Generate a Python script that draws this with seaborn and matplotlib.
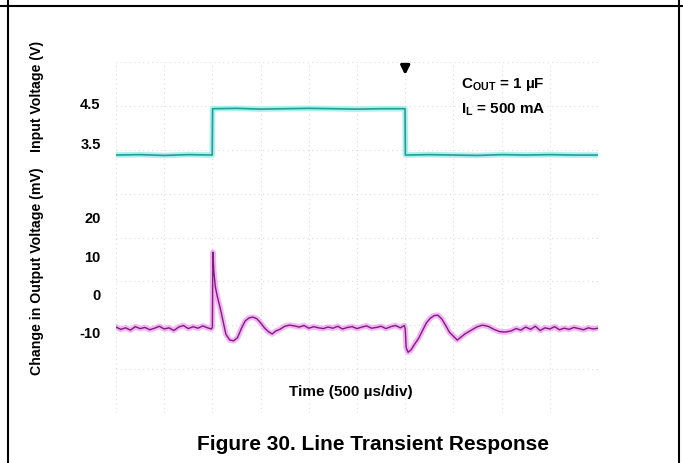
import numpy as np
import pandas as pd
import seaborn as sns
import matplotlib.pyplot as plt
from matplotlib.lines import Line2D

# input voltage trace (V) vs time (us)
t_in = [0, 250, 500, 750, 998, 1002, 1250, 1500, 1750, 2000, 2250, 2500, 2750,
        2998, 3002, 3250, 3500, 3750, 4000, 4250, 4500, 4750, 5000]
v_in = [3.20, 3.21, 3.19, 3.21, 3.20, 4.36, 4.37, 4.35, 4.36, 4.37, 4.36, 4.35, 4.36,
        4.36, 3.20, 3.21, 3.20, 3.19, 3.21, 3.20, 3.21, 3.20, 3.20]

# change in output voltage (mV) vs time (us)
t_out = [0, 50, 100, 150, 200, 250, 300, 350, 400, 450, 500, 550, 600, 650, 700,
         750, 800, 850, 900, 950, 990,
         1000, 1005, 1015, 1030, 1050, 1080, 1110, 1140, 1180, 1220, 1260, 1300,
         1340, 1380, 1420, 1460, 1500, 1540, 1580, 1620, 1660, 1700, 1750, 1800,
         1850, 1900, 1950, 2000, 2050, 2100, 2150, 2200, 2250, 2300, 2350, 2400,
         2450, 2500, 2550, 2600, 2650, 2700, 2750, 2800, 2850, 2900, 2950, 2990,
         3000, 3010, 3030, 3060, 3100, 3140, 3180, 3220, 3260, 3300, 3340, 3380,
         3420, 3460, 3500, 3540, 3580, 3620, 3680, 3740, 3800, 3860, 3920, 3980,
         4040, 4100, 4150, 4200, 4250, 4300, 4350, 4400, 4450, 4500, 4550, 4600,
         4650, 4700, 4750, 4800, 4850, 4900, 4950, 5000]
v_out = [-8.6, -9.2, -8.8, -9.4, -8.5, -9.0, -8.7, -9.3, -8.9, -8.4, -9.1, -8.8,
         -9.5, -8.6, -8.2, -9.0, -8.5, -8.9, -8.3, -8.8, -9.1,
         -8.6, 11.0, 6.0, 2.0, -0.5, -3.5, -7.0, -10.5, -12.0, -12.2, -11.4, -9.0,
         -7.0, -6.2, -6.0, -6.4, -7.5, -8.8, -9.8, -10.4, -9.6, -9.2, -8.4, -8.1,
         -8.3, -8.6, -8.2, -8.9, -8.5, -8.8, -9.0, -8.6, -8.9, -8.4, -9.1, -8.7,
         -8.5, -9.0, -8.6, -8.3, -8.9, -8.7, -8.4, -9.0, -8.5, -8.2, -8.8, -8.2,
         -9.0, -14.0, -15.2, -14.6, -13.0, -11.5, -9.5, -7.5, -6.3, -5.6, -5.5, -6.5,
         -8.2, -10.0, -11.0, -12.0, -11.2, -10.4, -9.5, -8.6, -8.1, -8.4, -9.2, -9.8,
         -9.9, -9.6, -9.0, -9.4, -8.6, -9.2, -8.4, -9.5, -8.8, -9.1, -8.5, -9.3,
         -8.9, -9.2, -8.7, -9.0, -9.3, -8.8, -9.1, -8.9]

in_ticks = [3.5, 4.5]
out_ticks = [-10, 0, 10, 20]

df_in = pd.DataFrame({"t": t_in, "v": v_in})
df_out = pd.DataFrame({"t": t_out, "v": v_out})

sns.set_style("white")
plt.rcParams["font.family"] = ["Liberation Sans", "DejaVu Sans"]
plt.rcParams["text.color"] = "black"
plt.rcParams["ytick.color"] = "black"
plt.rcParams["mathtext.fontset"] = "custom"
plt.rcParams["mathtext.bf"] = "Liberation Sans:bold"
plt.rcParams["mathtext.rm"] = "Liberation Sans:bold"

fig = plt.figure(figsize=(6.83, 4.63), dpi=100)
pos = [116 / 683, 50 / 463, 482 / 683, 351 / 463]
ax = fig.add_axes(pos)
ax_in = fig.add_axes(pos, sharex=ax)
ax_in.patch.set_visible(False)

# scope grid: 10 x 8 divisions
for i in range(11):
    ax.axvline(i * 500, color="#dcdcdc", lw=0.8, ls=(0, (1, 3)), zorder=0)
for j in range(9):
    ax.axhline(-31.1 + j * 91.9 / 8, color="#dcdcdc", lw=0.8, ls=(0, (1, 3)), zorder=0)

sns.lineplot(data=df_out, x="t", y="v", ax=ax, color="#ee66ee", lw=4, alpha=0.5)
sns.lineplot(data=df_out, x="t", y="v", ax=ax, color="#7a1f7a", lw=1.0)
sns.lineplot(data=df_in, x="t", y="v", ax=ax_in, color="#a8f2ee", lw=4)
sns.lineplot(data=df_in, x="t", y="v", ax=ax_in, color="#2a9a94", lw=1.2)

ax.set_xlim(0, 5000)
ax.set_ylim(-31.1, 60.8)
ax_in.set_ylim(-3.26, 5.53)

for a in (ax, ax_in):
    a.set_xlabel("")
    a.set_ylabel("")
    a.set_xticks([])
    for s in a.spines.values():
        s.set_visible(False)
    a.tick_params(axis="y", length=0, pad=11, labelsize=10.5)

ax.set_yticks(out_ticks)
ax.set_yticklabels([str(v) for v in out_ticks], fontweight="bold")
ax_in.set_yticks(in_ticks)
ax_in.set_yticklabels([str(v) for v in in_ticks], fontweight="bold")

# trigger marker
ax.annotate("", xy=(3000, 0.955), xytext=(3000, 1.0),
            xycoords=("data", "axes fraction"),
            arrowprops=dict(arrowstyle="-|>", color="black", lw=2.2, mutation_scale=13))

ax.text(0.715, 0.935, r"$\mathbf{C_{OUT}}$ = 1 µF", transform=ax.transAxes,
        fontsize=11, fontweight="bold", va="center")
ax.text(0.715, 0.865, r"$\mathbf{I_{L}}$ = 500 mA", transform=ax.transAxes,
        fontsize=11, fontweight="bold", va="center")
ax.text(0.487, 0.06, "Time (500 µs/div)", transform=ax.transAxes,
        fontsize=11, fontweight="bold", ha="center", va="center")

fig.text(37 / 683, 1 - 96 / 463, "Input Voltage (V)", rotation=90,
         fontsize=10.2, fontweight="bold", ha="center", va="center")
fig.text(37 / 683, 1 - 271 / 463, "Change in Output Voltage (mV)", rotation=90,
         fontsize=10.2, fontweight="bold", ha="center", va="center")
fig.text(373 / 683, 1 - 444 / 463, "Figure 30. Line Transient Response",
         fontsize=15, fontweight="bold", ha="center", va="center")

# page frame lines
fig.add_artist(Line2D([0, 1], [1 - 6 / 463] * 2, color="black", lw=1.5))
fig.add_artist(Line2D([8 / 683] * 2, [0, 1], color="black", lw=1.5))
fig.add_artist(Line2D([679 / 683] * 2, [0, 1], color="black", lw=1.5))

fig.savefig("out.png", dpi=100)
